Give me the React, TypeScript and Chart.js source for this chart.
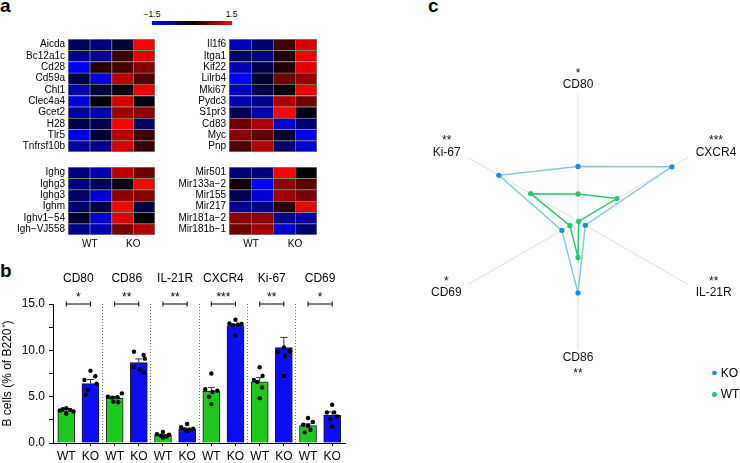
import React, { useEffect, useRef } from 'react';
import { Chart, registerables } from 'chart.js';

Chart.register(...registerables);

const FONT = "'Liberation Sans', Arial, Helvetica, sans-serif";
Chart.defaults.font.family = FONT;
Chart.defaults.color = '#000';

// ---------------- Panel a : heatmaps ----------------
const heatGroupLabels = ['WT', 'KO'];
const colorbarTicks = ['\u22121.5', '1.5'];

const genesA = ['Aicda', 'Bc12a1c', 'Cd28', 'Cd59a', 'Chl1', 'Clec4a4', 'Gcet2', 'H28', 'Tlr5', 'Tnfrsf10b'];
const zA = [
  [-0.53, -0.76, -0.3, 1.5],
  [-0.8, -0.88, 0.35, 1.3],
  [-1.5, 0.24, 0.4, 0.8],
  [-0.4, -1.3, 1.1, 0.47],
  [-1.0, -0.35, -0.1, 1.4],
  [-1.3, 0.0, 1.25, -0.05],
  [-0.95, -1.0, 0.9, 0.82],
  [-0.4, -0.5, 1.5, -0.6],
  [-1.3, -0.3, 1.05, 0.35],
  [-0.95, -0.82, 1.25, 0.3],
];

const genesB = ['Il1f6', 'Itga1', 'Kif22', 'Lilrb4', 'Mki67', 'Pydc3', 'S1pr3', 'Cd83', 'Myc', 'Pnp'];
const zB = [
  [-1.1, -0.65, 0.4, 1.25],
  [-0.6, -0.76, 0.18, 1.4],
  [-1.1, -0.47, 0.18, 1.35],
  [-1.5, -0.25, 0.65, 0.9],
  [-1.1, -0.4, -0.05, 1.4],
  [-1.0, -0.82, 1.03, 0.65],
  [-0.5, -1.0, 1.47, -0.15],
  [0.65, 1.0, -1.18, -0.65],
  [0.82, 0.6, -0.3, -1.4],
  [0.47, 1.06, -0.6, -1.25],
];

const genesC = ['Ighg', 'Ighg3', 'Ighg3', 'Ighm', 'Ighv1\u221254', 'Igh\u2212VJ558'];
const zC = [
  [-0.76, -1.05, 1.1, 0.65],
  [-0.7, -0.5, -0.15, 1.47],
  [-0.6, -1.25, 0.82, 0.78],
  [-0.7, -0.45, 1.47, -0.4],
  [-0.28, -1.18, 1.3, 0.0],
  [-0.82, -1.05, 0.7, 1.05],
];

const genesD = ['Mir501', 'Mir133a\u22122', 'Mir155', 'Mir217', 'Mir181a\u22122', 'Mir181b\u22121'];
const zD = [
  [-0.7, -0.76, 1.47, 0.0],
  [0.1, -1.5, 0.82, 0.53],
  [-0.47, -1.25, 0.94, 0.7],
  [-0.88, -0.82, 0.24, 1.35],
  [0.82, 0.82, -0.82, -0.94],
  [0.65, 1.0, -1.18, -0.65],
];

// ---------------- Panel b : bar chart ----------------
const barGroups = ['CD80', 'CD86', 'IL-21R', 'CXCR4', 'Ki-67', 'CD69'];
const barStars = ['*', '**', '**', '***', '**', '*'];
const barTickLabels = ['WT', 'KO', 'WT', 'KO', 'WT', 'KO', 'WT', 'KO', 'WT', 'KO', 'WT', 'KO'];
const barMeans = [3.45, 6.4, 4.86, 8.67, 0.83, 1.51, 5.6, 12.66, 6.6, 10.3, 1.87, 3.0];
const barSem = [0.15, 0.45, 0.15, 0.4, 0.08, 0.1, 0.4, 0.15, 0.45, 1.1, 0.2, 0.35];
const barDots = [
  [3.76, 3.66, 3.58, 3.5, 3.4, 3.15],
  [7.8, 7.2, 6.8, 6.4, 5.7, 5.2],
  [5.35, 5.0, 4.95, 4.9, 4.45, 4.4],
  [9.85, 9.5, 9.1, 8.2, 7.95, 7.6],
  [1.2, 0.95, 0.9, 0.8, 0.7, 0.6],
  [2.05, 1.7, 1.55, 1.45, 1.4, 1.3],
  [7.5, 5.8, 5.65, 5.5, 5.0, 4.2],
  [13.3, 12.9, 12.85, 12.8, 12.7, 11.6],
  [8.17, 7.24, 6.8, 6.6, 6.0, 4.84],
  [10.3, 9.95, 9.86, 9.9, 9.4, 7.24],
  [2.69, 2.26, 1.97, 1.86, 1.43, 1.15],
  [4.12, 3.3, 3.3, 2.87, 2.58, 1.79],
];
const dotJitter = [
  [0.0, -0.14, 0.16, -0.27, 0.3, 0.0],
  [0.0, 0.2, -0.25, 0.25, -0.1, -0.2],
  [0.3, -0.28, 0.12, -0.1, -0.05, 0.15],
  [-0.2, 0.2, 0.25, -0.2, 0.05, 0.2],
  [0.0, -0.25, 0.25, -0.1, 0.15, 0.0],
  [0.0, -0.25, 0.25, -0.1, 0.1, 0.0],
  [0.0, -0.25, 0.25, 0.05, -0.1, 0.0],
  [0.0, -0.25, 0.25, 0.1, -0.1, 0.0],
  [0.0, 0.12, -0.24, -0.1, 0.1, 0.0],
  [0.0, 0.25, -0.25, 0.25, 0.05, 0.0],
  [0.0, 0.2, -0.2, 0.0, 0.1, -0.14],
  [0.0, -0.22, 0.08, 0.2, -0.08, 0.0],
];
const yTicks = [0, 2.5, 5, 7.5, 10, 12.5, 15];
const yTitle = 'B cells (% of B220\u207A)';

// ---------------- Panel c : radar ----------------
const radarAxes = ['CD80', 'CXCR4', 'IL-21R', 'CD86', 'CD69', 'Ki-67'];
const radarStars = ['*', '***', '**', '**', '*', '**'];
const radarSeries = ['KO', 'WT'];
const radarKO = [6.45, 12.8, 1.0, 8.5, 2.2, 10.8];
const radarWT = [3.2, 5.3, 0.1, 4.3, 1.1, 6.45];

// ---------------- styles ----------------
const GREEN = 'rgb(30,200,30)';
const BLUE = 'rgb(12,12,245)';
const KO_LINE = 'rgb(140,196,238)';
const KO_POINT = 'rgb(22,138,250)';
const WT_LINE = 'rgb(48,200,110)';
const WT_POINT = 'rgb(40,200,100)';

function heatColor(v: number) {
  const t = Math.min(1, Math.abs(v) / 1.5);
  const c = Math.round(255 * t);
  return v < 0 ? `rgb(0,0,${c})` : `rgb(${c},0,0)`;
}

function heatConfig(genes: string[], z: number[][], showGroups: boolean): any {
  const n = genes.length;
  return {
    type: 'bar',
    data: {
      labels: genes,
      datasets: [0, 1, 2, 3].map((c) => ({
        data: genes.map(() => 1),
        backgroundColor: z.map((row) => heatColor(row[c])),
        borderColor: '#808080',
        borderWidth: (ctx: any) => ({
          top: 1,
          left: 1,
          right: c === 3 ? 1 : 0,
          bottom: ctx.dataIndex === n - 1 ? 1 : 0,
        }),
        borderSkipped: false,
        barPercentage: 1,
        categoryPercentage: 1,
      })),
    },
    options: {
      indexAxis: 'y',
      responsive: false,
      animation: false,
      events: [],
      layout: { padding: 0 },
      plugins: { legend: { display: false }, tooltip: { enabled: false } },
      scales: {
        x: {
          type: 'linear',
          stacked: true,
          min: 0,
          max: 4,
          display: showGroups,
          afterBuildTicks: (s: any) => {
            s.ticks = [1, 3].map((v) => ({ value: v }));
          },
          ticks: {
            callback: (_v: any, i: number) => heatGroupLabels[i],
            font: { size: 10 },
            padding: 3,
            autoSkip: false,
            maxRotation: 0,
          },
          grid: { display: false, drawTicks: false },
          border: { display: false },
          afterFit: (s: any) => {
            s.height = showGroups ? 17 : 0;
            s.paddingLeft = 0;
            s.paddingRight = 0;
          },
        },
        y: {
          stacked: true,
          grid: { display: false, drawTicks: false },
          border: { display: false },
          ticks: { font: { size: 10 }, padding: 3, autoSkip: false },
          afterFit: (s: any) => {
            s.width = 68;
            s.paddingTop = 0;
            s.paddingBottom = 0;
          },
        },
      },
    },
  };
}

function barConfig(): any {
  const bars = barMeans.map((y, i) => ({ x: i, y }));
  const errs: any[] = [];
  barMeans.forEach((m, i) => {
    errs.push({ x: i, y: m }, { x: i, y: m + barSem[i], cap: true }, { x: i, y: null });
  });
  const brackets: any[] = [];
  barGroups.forEach((_g, g) => {
    brackets.push({ x: 2 * g, y: 15 }, { x: 2 * g + 1, y: 15 }, { x: 2 * g + 1, y: null });
  });
  const dots: any[] = [];
  barDots.forEach((arr, i) => arr.forEach((y, j) => dots.push({ x: i + dotJitter[i][j], y })));
  const groupTicks = [0.5, 1.5, 2.5, 3.5, 4.5, 5.5, 6.5, 7.5, 8.5, 9.5, 10.5];

  return {
    type: 'bar',
    data: {
      datasets: [
        {
          type: 'bar',
          data: bars,
          backgroundColor: barMeans.map((_m, i) => (i % 2 ? BLUE : GREEN)),
          borderColor: '#1a1a1a',
          borderWidth: 1,
          barThickness: 17,
          order: 4,
        },
        {
          type: 'line',
          data: errs,
          borderColor: '#333',
          borderWidth: 1,
          pointStyle: 'line',
          pointRadius: (ctx: any) => (ctx.raw && ctx.raw.cap ? 3.5 : 0),
          pointBorderColor: '#333',
          pointBorderWidth: 1,
          spanGaps: false,
          order: 3,
        },
        {
          type: 'line',
          data: brackets,
          borderColor: '#000',
          borderWidth: 1,
          pointStyle: 'line',
          pointRotation: 90,
          pointRadius: (ctx: any) => (ctx.raw && ctx.raw.y != null ? 2.5 : 0),
          pointBorderColor: '#000',
          pointBorderWidth: 1,
          spanGaps: false,
          clip: false,
          order: 2,
        },
        {
          type: 'scatter',
          data: dots,
          pointBackgroundColor: '#000',
          pointBorderColor: '#000',
          pointBorderWidth: 0,
          pointRadius: 2.2,
          order: 1,
        },
      ],
    },
    options: {
      responsive: false,
      animation: false,
      events: [],
      layout: { padding: 0 },
      plugins: { legend: { display: false }, tooltip: { enabled: false } },
      scales: {
        x: {
          type: 'linear',
          position: 'bottom',
          min: -0.55,
          max: 11.53,
          offset: false,
          afterBuildTicks: (s: any) => {
            s.ticks = barTickLabels.map((_l, i) => ({ value: i }));
          },
          ticks: {
            callback: (_v: any, i: number) => barTickLabels[i],
            font: { size: 12 },
            padding: 3,
            autoSkip: false,
            maxRotation: 0,
          },
          grid: { display: true, offset: false, drawOnChartArea: false, drawTicks: true, tickLength: 3, color: '#000' },
          border: { display: true, color: '#000', width: 1 },
          afterFit: (s: any) => {
            s.height = 20;
          },
        },
        x2: {
          type: 'linear',
          position: 'top',
          min: -0.55,
          max: 11.53,
          offset: false,
          afterBuildTicks: (s: any) => {
            s.ticks = groupTicks.map((v) => ({ value: v }));
          },
          ticks: {
            callback: (_v: any, i: number) => (i % 2 === 0 ? [barGroups[i / 2], barStars[i / 2]] : ''),
            font: { size: 12, lineHeight: 1.6 },
            padding: -3,
            autoSkip: false,
            maxRotation: 0,
          },
          grid: {
            display: true,
            offset: false,
            drawTicks: false,
            drawOnChartArea: true,
            color: (ctx: any) => (ctx.index % 2 === 1 ? '#707070' : 'rgba(0,0,0,0)'),
            lineWidth: 1,
          },
          border: { display: false, dash: [1, 2] },
          afterFit: (s: any) => {
            s.height = 44;
          },
        },
        y: {
          min: 0,
          max: 15,
          afterBuildTicks: (s: any) => {
            s.ticks = yTicks.map((v) => ({ value: v }));
          },
          ticks: {
            callback: (v: any) => (v % 5 === 0 ? Number(v).toFixed(1) : ''),
            font: { size: 12 },
            padding: 4,
            autoSkip: false,
          },
          grid: { display: true, drawOnChartArea: false, drawTicks: true, tickLength: 4, color: '#000' },
          border: { display: true, color: '#000', width: 1 },
          title: { display: true, text: yTitle, font: { size: 12 }, padding: { top: 0, bottom: 0 }, color: '#000' },
          afterFit: (s: any) => {
            s.width = 53;
          },
        },
      },
    },
  };
}

// label layout around the radar (style only)
const radarLabelLayout = [
  { align: 'center', dx: 0, dy: -6, starDy: -11.5 },
  { align: 'left', dx: 7.7, dy: -1.3, starDy: -12 },
  { align: 'left', dx: 7.7, dy: 11, starDy: -10.5 },
  { align: 'center', dx: 0, dy: 13.4, starDy: 16 },
  { align: 'right', dx: 6.3, dy: 11, starDy: -10.5 },
  { align: 'right', dx: 7.3, dy: -1.3, starDy: -12 },
];

const radarLabelPlugin = {
  id: 'radarLabels',
  afterDraw(chart: any) {
    const s = chart.scales.r;
    const ctx = chart.ctx;
    ctx.save();
    ctx.font = `12px ${FONT}`;
    ctx.fillStyle = '#111';
    ctx.textAlign = 'center';
    ctx.textBaseline = 'alphabetic';
    radarAxes.forEach((name, i) => {
      const p = s.getPointPosition(i, s.drawingArea);
      const L = radarLabelLayout[i];
      const w = ctx.measureText(name).width;
      let cx = p.x;
      if (L.align === 'left') cx = p.x + L.dx + w / 2;
      else if (L.align === 'right') cx = p.x - L.dx - w / 2;
      const base = p.y + L.dy;
      ctx.fillText(name, cx, base);
      ctx.fillText(radarStars[i], cx, base + L.starDy);
    });
    ctx.restore();
  },
};

function radarConfig(): any {
  return {
    type: 'radar',
    data: {
      labels: radarAxes,
      datasets: [
        {
          label: radarSeries[0],
          data: radarKO,
          borderColor: KO_LINE,
          backgroundColor: 'rgba(0,0,0,0)',
          borderWidth: 1.5,
          pointBackgroundColor: KO_POINT,
          pointBorderColor: KO_POINT,
          pointBorderWidth: 0,
          pointRadius: 2.6,
          fill: false,
        },
        {
          label: radarSeries[1],
          data: radarWT,
          borderColor: WT_LINE,
          backgroundColor: 'rgba(0,0,0,0)',
          borderWidth: 1.5,
          pointBackgroundColor: WT_POINT,
          pointBorderColor: WT_POINT,
          pointBorderWidth: 0,
          pointRadius: 2.6,
          fill: false,
        },
      ],
    },
    options: {
      responsive: false,
      animation: false,
      events: [],
      layout: { padding: { left: 31, top: 39, right: 34, bottom: 40 } },
      plugins: { legend: { display: false }, tooltip: { enabled: false } },
      scales: {
        r: {
          min: 0,
          max: 15,
          ticks: { display: false },
          grid: { display: false },
          angleLines: { display: true, color: '#e0e0e0', lineWidth: 1 },
          pointLabels: { display: false },
        },
      },
    },
    plugins: [radarLabelPlugin],
  };
}

function ChartBox(props: { make: () => any; left: number; top: number; width: number; height: number }) {
  const ref = useRef<HTMLCanvasElement>(null);
  useEffect(() => {
    const chart = new Chart(ref.current as HTMLCanvasElement, props.make());
    return () => chart.destroy();
  }, []);
  return (
    <div style={{ position: 'absolute', left: props.left, top: props.top, width: props.width, height: props.height }}>
      <canvas
        ref={ref}
        width={props.width}
        height={props.height}
        style={{ width: props.width, height: props.height, display: 'block' }}
      />
    </div>
  );
}

const letterStyle: any = {
  position: 'absolute',
  fontSize: 19,
  lineHeight: '19px',
  fontWeight: 'bold',
  fontFamily: FONT,
};

const smallText: any = {
  position: 'absolute',
  fontFamily: FONT,
  whiteSpace: 'nowrap',
};

export default function App() {
  return (
    <div
      style={{
        position: 'fixed',
        left: 0,
        top: 0,
        width: 740,
        height: 463,
        overflow: 'hidden',
        background: '#fff',
        color: '#000',
        fontFamily: FONT,
      }}
    >
      {/* panel letters */}
      <div style={{ ...letterStyle, left: 0, top: -4.4 }}>a</div>
      <div style={{ ...letterStyle, left: 0, top: 261 }}>b</div>
      <div style={{ ...letterStyle, left: 428, top: -4.4 }}>c</div>

      {/* colour bar */}
      <div
        style={{
          position: 'absolute',
          left: 152,
          top: 20.8,
          width: 80,
          height: 4.6,
          background: 'linear-gradient(to right, #0000ff, #000000, #ff0000)',
        }}
      />
      <div style={{ ...smallText, left: 152, top: 10.2, fontSize: 8.5, lineHeight: '8.5px', transform: 'translateX(-50%)' }}>
        {colorbarTicks[0]}
      </div>
      <div style={{ ...smallText, left: 231.7, top: 10.2, fontSize: 8.5, lineHeight: '8.5px', transform: 'translateX(-50%)' }}>
        {colorbarTicks[1]}
      </div>

      {/* heatmaps */}
      <ChartBox make={() => heatConfig(genesA, zA, false)} left={0} top={39} width={155} height={113} />
      <ChartBox make={() => heatConfig(genesB, zB, false)} left={161} top={39} width={156} height={113} />
      <ChartBox make={() => heatConfig(genesC, zC, true)} left={0} top={167} width={155} height={85} />
      <ChartBox make={() => heatConfig(genesD, zD, true)} left={161} top={167} width={156} height={85} />

      {/* bar chart */}
      <ChartBox make={barConfig} left={0} top={260} width={350} height={203} />

      {/* radar */}
      <ChartBox make={radarConfig} left={420} top={55} width={320} height={334} />

      {/* radar legend */}
      <div style={{ position: 'absolute', left: 712, top: 370.5, width: 4.6, height: 4.6, borderRadius: '50%', background: KO_POINT }} />
      <div style={{ ...smallText, left: 720.7, top: 366.8, fontSize: 12, lineHeight: '12px' }}>{radarSeries[0]}</div>
      <div style={{ position: 'absolute', left: 712, top: 392.1, width: 4.6, height: 4.6, borderRadius: '50%', background: WT_POINT }} />
      <div style={{ ...smallText, left: 720.7, top: 388.4, fontSize: 12, lineHeight: '12px' }}>{radarSeries[1]}</div>
    </div>
  );
}
